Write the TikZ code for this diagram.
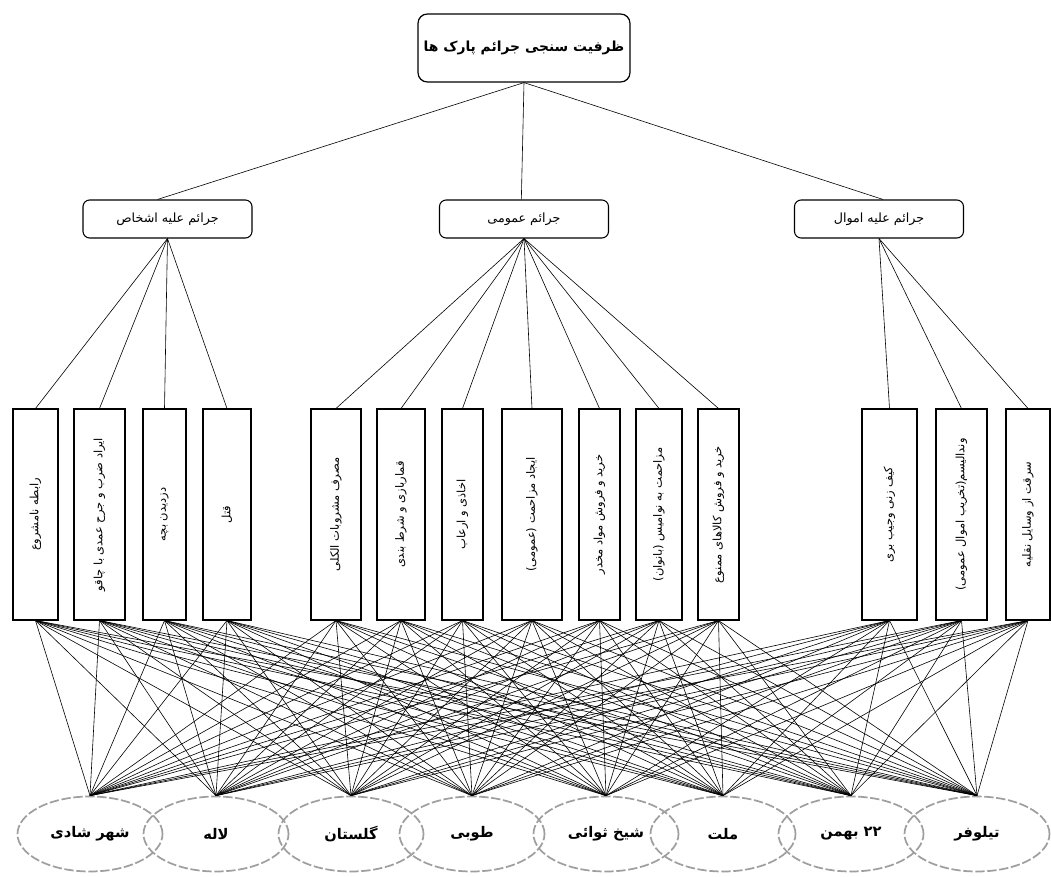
\documentclass[tikz,border=0pt]{standalone}
\usepackage{fontspec}
\usepackage{graphicx}
\usetikzlibrary{shapes.geometric}
\TeXXeTstate=1
\newfontfamily\fa[Script=Arabic]{DejaVu Sans}
\newcommand{\rtl}[1]{{\fa\beginR #1\endR}}
\newcommand{\vrtl}[1]{\rotatebox{90}{\rtl{#1}}}
\tikzset{
  rootbox/.style={draw, line width=0.9pt, rounded corners=7pt, minimum width=159pt, minimum height=51pt, inner sep=0pt, font=\fontsize{10.4}{12}\selectfont\bfseries},
  catbox/.style={draw, line width=0.8pt, rounded corners=5pt, minimum width=126.75pt, minimum height=28.5pt, inner sep=0pt, font=\fontsize{9.5}{11}\selectfont},
  crimebox/.style={draw, line width=0.8pt, minimum height=158.25pt, minimum width=#1*0.75pt, inner sep=0pt, font=\fontsize{8.6}{10}\selectfont},
  park/.style={ellipse, draw=gray!75, dashed, dash pattern=on 7pt off 2pt, line width=1.3pt, minimum width=108.75pt, minimum height=56.25pt, inner sep=0pt, font=\fontsize{11}{13}\selectfont\bfseries},
  link/.style={draw, line width=0.45pt},
}
\begin{document}
\begin{tikzpicture}[x=0.75pt,y=-0.75pt]
\useasboundingbox (0,0) rectangle (1051,877);
% root
\node[rootbox] (root) at (524,48) {\rtl{ظرفیت سنجی جرائم پارک ها}};
% categories
\node[catbox] (ca) at (167.5,219) {\rtl{جرائم علیه اشخاص}};
\node[catbox] (cb) at (524,219) {\rtl{جرائم عمومی}};
\node[catbox] (cc) at (879,219) {\rtl{جرائم علیه اموال}};
% crimes
\node[crimebox=45] (b1) at (35.5,514.5) {\vrtl{رابطه نامشروع}};
\node[crimebox=51] (b2) at (99.5,514.5) {\vrtl{ایراد ضرب و جرح عمدی با چاقو}};
\node[crimebox=43] (b3) at (164.5,514.5) {\vrtl{دزدیدن بچه}};
\node[crimebox=48] (b4) at (227,514.5) {\vrtl{قتل}};
\node[crimebox=50] (b5) at (336,514.5) {\vrtl{مصرف مشروبات الکلی}};
\node[crimebox=48] (b6) at (401,514.5) {\vrtl{قماربازی و شرط بندی}};
\node[crimebox=41] (b7) at (462.5,514.5) {\vrtl{اخاذی و ارعاب}};
\node[crimebox=60] (b8) at (532,514.5) {\vrtl{ایجاد مزاحمت (عمومی)}};
\node[crimebox=41] (b9) at (599.5,514.5) {\vrtl{خرید و فروش مواد مخدر}};
\node[crimebox=46] (b10) at (659,514.5) {\vrtl{مزاحمت به نوامیس (بانوان)}};
\node[crimebox=41] (b11) at (718.5,514.5) {\vrtl{خرید و فروش کالاهای ممنوع}};
\node[crimebox=55] (b12) at (889.5,514.5) {\vrtl{کیف زنی وجیب بری}};
\node[crimebox=51] (b13) at (961.5,514.5) {\vrtl{وندالیسم(تخریب اموال عمومی)}};
\node[crimebox=44] (b14) at (1028,514.5) {\vrtl{سرقت از وسایل نقلیه}};
% parks
\node[park] (e1) at (90,834) {\rtl{شهر شادی}};
\node[park] (e2) at (216,834) {\rtl{لاله}};
\node[park] (e3) at (351,834) {\rtl{گلستان}};
\node[park] (e4) at (472,834) {\rtl{طوبی}};
\node[park] (e5) at (606,834) {\rtl{شیخ ثوائی}};
\node[park] (e6) at (723,834) {\rtl{ملت}};
\node[park] (e7) at (851,834) {\rtl{۲۲ بهمن}};
\node[park] (e8) at (977,834) {\rtl{تیلوفر}};
% root links
\draw[link] (root.south) -- ([xshift=-7.5pt]ca.north);
\draw[link] (root.south) -- ([xshift=-2pt]cb.north);
\draw[link] (root.south) -- ([xshift=3pt]cc.north);
\foreach \i in {1,...,4} \draw[link] (ca.south) -- (b\i.north);
\foreach \i in {5,...,11} \draw[link] (cb.south) -- (b\i.north);
\foreach \i in {12,...,14} \draw[link] (cc.south) -- (b\i.north);
\foreach \i in {1,...,14} {\foreach \j in {1,...,8} {\draw[link] (b\i.south) -- (e\j.north);}}
\end{tikzpicture}
\end{document}
